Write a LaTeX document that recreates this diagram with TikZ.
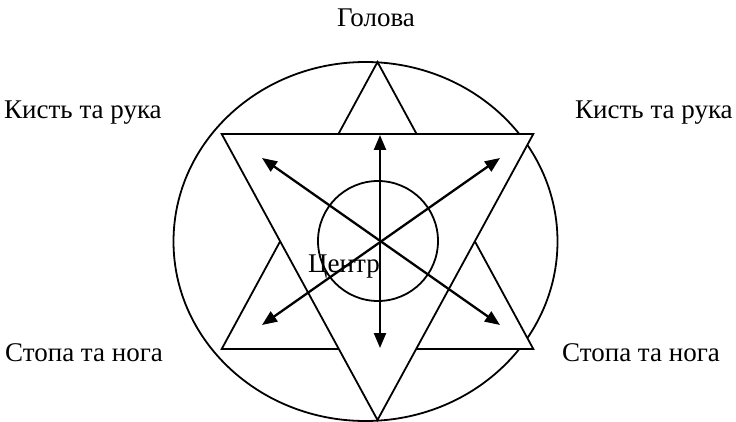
\documentclass[tikz,border=0pt]{standalone}
\usepackage{fontspec}
\setmainfont{Liberation Serif}
\usetikzlibrary{arrows.meta}
\begin{document}
\begin{tikzpicture}[x=1pt,y=-1pt,
  shapeline/.style={line width=1.8pt, line join=miter},
  dirarrow/.style={line width=2.3pt, {Triangle[length=15pt,width=12pt]}-{Triangle[length=15pt,width=12pt]}},
  lbl/.style={inner sep=0pt, anchor=base west, font=\fontsize{27}{32}\selectfont}]
\useasboundingbox (0,0) rectangle (736,422);
% outer ellipse
\draw[shapeline] (365.5,241.5) ellipse [x radius=192, y radius=179.5];
% triangles (white filled, down triangle on top)
\draw[shapeline, fill=white] (377.5,62) -- (533.3,349) -- (221.7,349) -- cycle;
\draw[shapeline, fill=white] (221.7,134) -- (533.3,134) -- (377.5,420) -- cycle;
% inner circle
\draw[shapeline] (378,241) circle [radius=60];
% arrow end points
\coordinate (c) at (380,241);
\coordinate (up) at (380,135);
\coordinate (down) at (380,348);
\coordinate (ul) at (262,158);
\coordinate (ur) at (500,158);
\coordinate (ll) at (262,325);
\coordinate (lr) at (500,325);
\draw[dirarrow] (up) -- (down);
\draw[dirarrow] (ul) -- (lr);
\draw[dirarrow] (ur) -- (ll);
% labels
\node[lbl] (head) at (337,26.7) {Голова};
\node[lbl] (handL) at (4,118.3) {Кисть та рука};
\node[lbl] (handR) at (575,118.3) {Кисть та рука};
\node[lbl] (footL) at (5,361.7) {Стопа та нога};
\node[lbl] (footR) at (562,361.7) {Стопа та нога};
\node[lbl] (centre) at (308,272.7) {Центр};
\end{tikzpicture}
\end{document}
